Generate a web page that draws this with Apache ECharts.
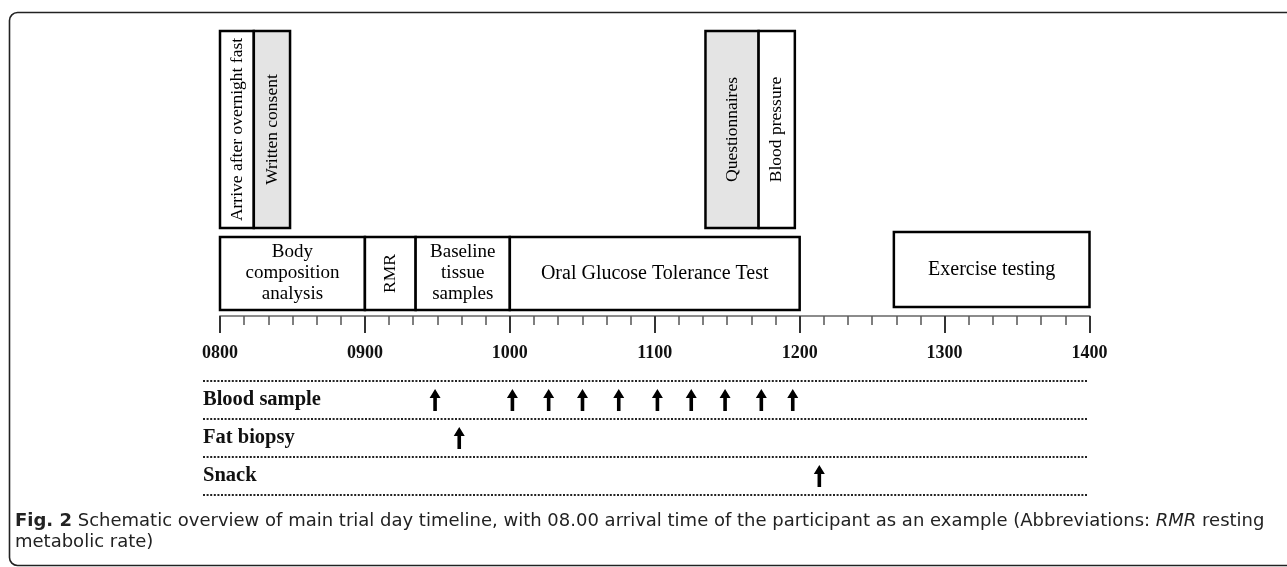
<!DOCTYPE html>
<html>
<head>
<meta charset="utf-8">
<script src="https://cdn.jsdelivr.net/npm/echarts@6/dist/echarts.min.js"></script>
<style>
  html, body { margin: 0; padding: 0; background: #fff; }
  #chart { width: 1287px; height: 567px; }
</style>
</head>
<body>
<div id="chart"></div>
<script>
// ---------------- DATA ----------------
// time axis: minutes after 08:00
const tickLabels = ['0800', '0900', '1000', '1100', '1200', '1300', '1400'];

// activity boxes
const activityNames = [
  'Arrive after overnight fast', 'Written consent',
  'Questionnaires', 'Blood pressure',
  'Body\ncomposition\nanalysis', 'RMR', 'Baseline\ntissue\nsamples',
  'Oral Glucose Tolerance Test', 'Exercise testing'
];
const activityStart = [0, 14, 201, 223, 0, 60, 81, 120, 279];
const activityEnd   = [14, 29, 223, 238, 60, 81, 120, 240, 360];

// event rows and arrow times (minutes after 08:00)
const eventRows = ['Blood sample', 'Fat biopsy', 'Snack'];
const bloodSampleTimes = [89, 121, 136, 150, 165, 181, 195, 209, 224, 237];
const fatBiopsyTimes = [99];
const snackTimes = [248];

const captionLine1 = ['Fig. 2', ' Schematic overview of main trial day timeline, with 08.00 arrival time of the participant as an example (Abbreviations: ', 'RMR', ' resting'];
const captionLine2 = 'metabolic rate)';

// ---------------- LAYOUT / STYLE ----------------
const SERIF = "'Liberation Serif', 'Times New Roman', serif";
const SANS = "'DejaVu Sans', 'Liberation Sans', sans-serif";
// lanes in the (hidden) vertical layout axis of the top grid
const laneOf = {
  'Arrive after overnight fast': 'upper', 'Written consent': 'upper',
  'Questionnaires': 'upper', 'Blood pressure': 'upper',
  'Exercise testing': 'lowerAlt'
};
const lanes = {
  upper: [0, 197, true],
  lower: [206, 279, false],
  lowerAlt: [201, 276, false]
};
const shaded = new Set(['Written consent', 'Questionnaires']);

const boxData = activityNames.map((n, i) => [activityStart[i], activityEnd[i], i]);

function renderBox(params, api) {
  const i = api.value(2);
  const name = activityNames[i];
  const lane = lanes[laneOf[name] || 'lower'];
  const p0 = api.coord([api.value(0), lane[0]]);
  const p1 = api.coord([api.value(1), lane[1]]);
  const x0 = p0[0], x1 = p1[0], y0 = p0[1], y1 = p1[1];
  const vertical = lane[2] || name === 'RMR';
  const single = name === 'Oral Glucose Tolerance Test' || name === 'Exercise testing';
  const fontSize = vertical ? 17.5 : (single ? 20 : 19);
  return {
    type: 'group',
    children: [
      {
        type: 'rect',
        shape: { x: x0, y: y0, width: x1 - x0, height: y1 - y0 },
        style: { fill: shaded.has(name) ? '#e4e4e4' : '#fff', stroke: '#000', lineWidth: 2.5 }
      },
      {
        type: 'text',
        x: (x0 + x1) / 2,
        y: (y0 + y1) / 2,
        rotation: vertical ? Math.PI / 2 : 0,
        style: {
          text: name,
          align: 'center',
          verticalAlign: 'middle',
          font: fontSize + 'px ' + SERIF,
          lineHeight: 21,
          fill: '#000'
        }
      }
    ]
  };
}

const ARROW = 'path://M5.5,0L11,9L7.3,9L7.3,22L3.7,22L3.7,9L0,9Z';

const chart = echarts.init(document.getElementById('chart'), null, { renderer: 'canvas' });
chart.setOption({
  animation: false,
  backgroundColor: '#fff',
  grid: [
    { left: 220, right: 197.5, top: 31, bottom: 251 },
    { left: 203, right: 200, top: 381, height: 114 }
  ],
  xAxis: [
    {
      gridIndex: 0, type: 'value', min: 0, max: 360, interval: 60, position: 'bottom',
      axisLine: { show: true, onZero: false, lineStyle: { color: '#8c8c8c', width: 2 } },
      axisTick: { show: true, length: 17, lineStyle: { color: '#333', width: 2 } },
      minorTick: { show: true, splitNumber: 6, length: 9, lineStyle: { color: '#555', width: 1.5 } },
      splitLine: { show: false },
      axisLabel: {
        margin: 28,
        formatter: v => tickLabels[Math.round(v / 60)],
        fontFamily: SERIF, fontWeight: 'bold', fontSize: 18, color: '#111'
      }
    },
    {
      gridIndex: 1, type: 'value', min: -7.03, max: 358.76, show: false
    }
  ],
  yAxis: [
    { gridIndex: 0, type: 'value', min: 0, max: 285, inverse: true, show: false },
    {
      gridIndex: 1, type: 'value', min: 0, max: 3, interval: 1, inverse: true, position: 'right',
      axisLine: { show: false }, axisTick: { show: false }, axisLabel: { show: false },
      splitLine: { show: true, lineStyle: { color: '#222', width: 2, type: [2, 1.6] } }
    },
    {
      gridIndex: 1, type: 'category', data: eventRows, inverse: true, position: 'left',
      axisLine: { show: false }, axisTick: { show: false }, splitLine: { show: false },
      axisLabel: {
        inside: true, margin: 0,
        fontFamily: SERIF, fontWeight: 'bold', fontSize: 20.5, color: '#111'
      }
    }
  ],
  series: [
    {
      type: 'custom', xAxisIndex: 0, yAxisIndex: 0,
      renderItem: renderBox, data: boxData, silent: true
    },
    {
      type: 'scatter', xAxisIndex: 1, yAxisIndex: 2,
      symbol: ARROW, symbolSize: [11, 22],
      itemStyle: { color: '#000', opacity: 1 },
      data: [].concat(
        bloodSampleTimes.map(t => [t, eventRows[0]]),
        fatBiopsyTimes.map(t => [t, eventRows[1]]),
        snackTimes.map(t => [t, eventRows[2]])
      ),
      silent: true
    }
  ],
  graphic: [
    {
      type: 'rect', silent: true, z: -1,
      shape: { x: 9.5, y: 12.5, width: 1300, height: 553, r: 8 },
      style: { fill: 'none', stroke: '#222', lineWidth: 1.6 }
    },
    {
      type: 'text', x: 15, y: 521, silent: true,
      style: {
        text: '{b|' + captionLine1[0] + '}' + captionLine1[1] + '{i|' + captionLine1[2] + '}' + captionLine1[3],
        verticalAlign: 'middle',
        font: '18px ' + SANS, fill: '#222',
        rich: {
          b: { fontWeight: 'bold', fontSize: 18, fontFamily: SANS, fill: '#222' },
          i: { fontStyle: 'italic', fontSize: 18, fontFamily: SANS, fill: '#222' }
        }
      }
    },
    {
      type: 'text', x: 15, y: 542, silent: true,
      style: { text: captionLine2, verticalAlign: 'middle', font: '18px ' + SANS, fill: '#222' }
    }
  ]
});
</script>
</body>
</html>
